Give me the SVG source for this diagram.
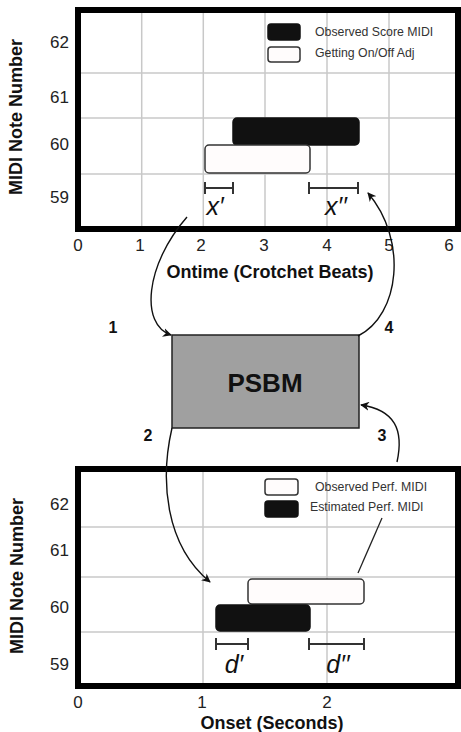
<svg xmlns="http://www.w3.org/2000/svg" width="461" height="732" viewBox="0 0 461 732">
<style>
.frame{fill:none;stroke:#000;stroke-width:6}
.grid{stroke:#c8c8c8;stroke-width:1.5}
.tick{font-family:"Liberation Sans",Arial,sans-serif;font-size:17px;fill:#222}
.axis{font-family:"Liberation Sans",Arial,sans-serif;font-size:18px;font-weight:bold;fill:#111}
.leg{font-family:"Liberation Sans",Arial,sans-serif;font-size:12.3px;fill:#333}
.blk{fill:#111;stroke:#111;stroke-width:1.5}
.wht{fill:#fffcfc;stroke:#333;stroke-width:1.5}
.br{stroke:#333;stroke-width:2;fill:none}
.it{font-family:"Liberation Sans",Arial,sans-serif;font-size:25px;font-style:italic;fill:#111}
.num{font-family:"Liberation Sans",Arial,sans-serif;font-size:16px;font-weight:bold;fill:#111}
.conn{fill:none;stroke:#111;stroke-width:1.4}
</style>
<defs>
<marker id="ah" viewBox="0 0 10 10" refX="9" refY="5" markerWidth="9" markerHeight="9" markerUnits="userSpaceOnUse" orient="auto">
<path d="M0,0 L10,5 L0,10 L3,5 Z" fill="#111"/>
</marker>
</defs>

<g id="top-plot">
<line class="grid" x1="141.7" y1="10" x2="141.7" y2="229"/>
<line class="grid" x1="203.3" y1="10" x2="203.3" y2="229"/>
<line class="grid" x1="265" y1="10" x2="265" y2="229"/>
<line class="grid" x1="327" y1="10" x2="327" y2="229"/>
<line class="grid" x1="389" y1="10" x2="389" y2="229"/>
<line class="grid" x1="78" y1="73" x2="458" y2="73"/>
<line class="grid" x1="78" y1="118" x2="458" y2="118"/>
<line class="grid" x1="78" y1="174" x2="458" y2="174"/>
<rect class="frame" x="78" y="10" width="380" height="219"/>
<rect class="blk" x="268" y="24" width="32" height="16" rx="3"/>
<rect class="wht" x="268" y="47" width="32" height="15" rx="3"/>
<text class="leg" x="315" y="36">Observed Score MIDI</text>
<text class="leg" x="315" y="57">Getting On/Off Adj</text>
<rect class="blk" x="233" y="118" width="126" height="27" rx="4"/>
<rect class="wht" x="205" y="145" width="105" height="28" rx="4"/>
<path class="br" d="M205,182V194M205,188H233M233,182V194"/>
<path class="br" d="M309,182V194M309,188H358M358,182V194"/>
<text class="it" x="215" y="215" text-anchor="middle">x′</text>
<text class="it" x="336" y="215" text-anchor="middle">x′′</text>
<g class="tick" text-anchor="middle">
<text x="78" y="251">0</text><text x="140" y="251">1</text><text x="201" y="251">2</text><text x="264" y="251">3</text><text x="327" y="251">4</text><text x="389" y="251">5</text><text x="449" y="251">6</text>
</g>
<g class="tick" text-anchor="end">
<text x="69" y="48">62</text><text x="69" y="103">61</text><text x="69" y="150">60</text><text x="69" y="203">59</text>
</g>
<text class="axis" x="270" y="278" text-anchor="middle">Ontime (Crotchet Beats)</text>
<text class="axis" transform="translate(22,117) rotate(-90)" text-anchor="middle">MIDI Note Number</text>
</g>

<g id="psbm">
<rect x="172" y="335" width="187" height="93" fill="#a0a0a0" stroke="#222" stroke-width="1.5"/>
<text x="265" y="392" text-anchor="middle" font-family="Liberation Sans, Arial, sans-serif" font-size="26" font-weight="bold" fill="#111">PSBM</text>
</g>

<g id="bottom-plot">
<line class="grid" x1="203" y1="469" x2="203" y2="686"/>
<line class="grid" x1="327" y1="469" x2="327" y2="686"/>
<line class="grid" x1="78" y1="527" x2="458" y2="527"/>
<line class="grid" x1="78" y1="577" x2="458" y2="577"/>
<line class="grid" x1="78" y1="632" x2="458" y2="632"/>
<rect class="frame" x="78" y="469" width="380" height="217"/>
<rect class="wht" x="265" y="479" width="33" height="16" rx="3"/>
<rect class="blk" x="265" y="501" width="33" height="16" rx="3"/>
<text class="leg" x="315" y="491">Observed Perf. MIDI</text>
<text class="leg" x="310" y="511">Estimated Perf. MIDI</text>
<line x1="358" y1="573" x2="382" y2="518" stroke="#222" stroke-width="1.3"/>
<rect class="wht" x="248" y="579" width="116" height="25" rx="4"/>
<rect class="blk" x="216" y="605" width="94" height="26" rx="4"/>
<path class="br" d="M216,638V650M216,644H248M248,638V650"/>
<path class="br" d="M309,638V650M309,644H364M364,638V650"/>
<text class="it" x="234" y="673" text-anchor="middle">d′</text>
<text class="it" x="338" y="673" text-anchor="middle">d′′</text>
<g class="tick" text-anchor="middle">
<text x="78" y="708">0</text><text x="202" y="708">1</text><text x="327" y="708">2</text>
</g>
<g class="tick" text-anchor="end">
<text x="69" y="510">62</text><text x="69" y="556">61</text><text x="69" y="613">60</text><text x="69" y="670">59</text>
</g>
<text class="axis" x="272" y="729" text-anchor="middle">Onset (Seconds)</text>
<text class="axis" transform="translate(23,576) rotate(-90)" text-anchor="middle">MIDI Note Number</text>
</g>

<g id="connectors">
<path class="conn" d="M187,217 C145,265 140,325 171,335" marker-end="url(#ah)"/>
<path class="conn" d="M358,336 C400,315 408,240 368,193" marker-end="url(#ah)"/>
<path class="conn" d="M172,428 C160,480 165,545 210,582" marker-end="url(#ah)"/>
<path class="conn" d="M397,462 C404,430 395,410 361,405" marker-end="url(#ah)"/>
</g>

<g id="step-labels">
<text class="num" x="113" y="333" text-anchor="middle">1</text>
<text class="num" x="389" y="333" text-anchor="middle">4</text>
<text class="num" x="148" y="441" text-anchor="middle">2</text>
<text class="num" x="382" y="441" text-anchor="middle">3</text>
</g>
</svg>
